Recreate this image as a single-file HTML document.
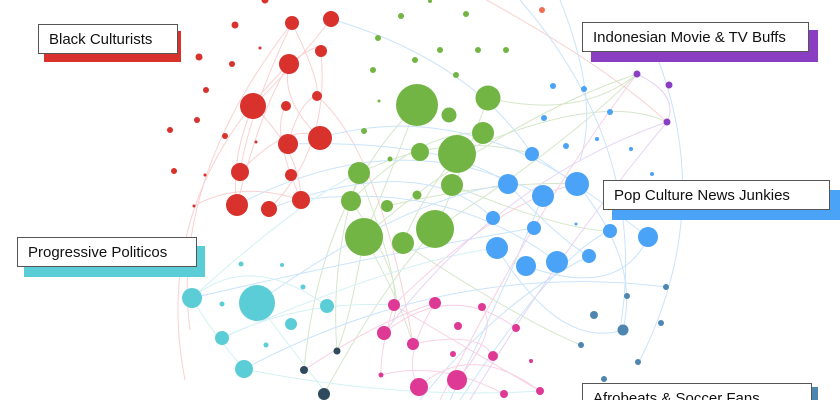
<!DOCTYPE html>
<html><head><meta charset="utf-8"><style>
body{margin:0;background:#fff;}
.w{position:relative;width:840px;height:400px;overflow:hidden;font-family:"Liberation Sans",sans-serif;}
.lb{position:absolute;background:#fff;border:1px solid #555;font-size:15px;color:#111;padding:0 10px;line-height:29px;white-space:nowrap;box-sizing:border-box;height:30px;}
.sh{position:absolute;}
</style></head><body><div class="w">
<svg width="840" height="400" style="position:absolute;left:0;top:0">
<g fill="none" stroke-width="1" opacity="0.45">
<g stroke="#f19a9a">
<path d="M190 330 Q170 180 292 23"/><path d="M185 380 Q150 200 289 64"/>
<path d="M253 106 Q300 60 331 19"/><path d="M237 205 Q260 110 289 64"/>
<path d="M240 172 Q250 110 292 23"/><path d="M269 209 Q330 150 321 51"/>
<path d="M301 200 Q270 130 286 106"/><path d="M288 144 Q300 100 317 96"/>
<path d="M320 138 Q280 100 289 64"/><path d="M194 206 Q240 180 301 200"/>
<path d="M240 172 Q290 120 320 138"/><path d="M450 -20 Q600 60 667 122"/>
<path d="M253 106 Q230 160 237 205"/><path d="M289 64 Q320 40 321 51"/>
<path d="M292 23 Q320 80 317 96"/><path d="M253 106 Q300 150 301 200"/>
<path d="M317 96 Q380 150 413 344"/>
</g>
<g stroke="#a3c98a">
<path d="M364 237 Q500 120 637 74"/><path d="M435 229 Q560 150 637 74"/>
<path d="M351 201 Q420 300 384 333"/><path d="M403 243 Q520 320 581 345"/>
<path d="M359 173 Q330 260 337 351"/><path d="M457 154 Q600 90 667 122"/>
<path d="M417 105 Q320 200 304 370"/><path d="M488 98 Q580 120 637 74"/>
<path d="M364 237 Q400 300 413 344"/><path d="M435 229 Q380 290 324 394"/>
<path d="M452 185 Q560 230 610 231"/><path d="M387 206 Q500 180 577 184"/>
<path d="M359 173 Q450 130 532 154"/><path d="M417 105 Q380 200 364 237"/>
<path d="M457 154 Q420 200 403 243"/><path d="M488 98 Q450 200 435 229"/>
<path d="M351 201 Q420 130 483 133"/><path d="M359 173 Q400 280 394 305"/>
<path d="M364 237 Q350 320 337 351"/>
</g>
<g stroke="#8cc3f5">
<path d="M331 19 Q470 60 532 154"/><path d="M320 138 Q450 100 577 184"/>
<path d="M237 205 Q400 120 543 196"/><path d="M257 303 Q400 200 508 184"/>
<path d="M497 248 Q560 350 623 330"/><path d="M526 266 Q620 300 648 237"/>
<path d="M420 400 Q500 300 589 256"/><path d="M460 400 Q560 250 610 231"/>
<path d="M520 0 Q650 150 620 330"/><path d="M650 40 Q720 200 640 360"/>
<path d="M301 200 Q450 180 557 262"/><path d="M269 209 Q420 150 493 218"/>
<path d="M244 369 Q450 260 666 287"/><path d="M192 298 Q400 250 534 228"/>
<path d="M560 0 Q600 100 580 160"/><path d="M508 184 Q560 240 589 256"/>
<path d="M532 154 Q600 200 648 237"/><path d="M288 144 Q450 140 508 184"/>
<path d="M543 196 Q500 300 450 400"/><path d="M577 184 Q640 260 623 330"/>
</g>
<g stroke="#f09ac4">
<path d="M394 305 Q470 350 540 391"/><path d="M435 303 Q400 360 419 387"/>
<path d="M384 333 Q450 280 516 328"/><path d="M413 344 Q480 330 493 356"/>
<path d="M381 375 Q440 360 504 394"/><path d="M457 380 Q500 330 482 307"/>
<path d="M440 400 Q540 200 637 74"/>
<path d="M394 305 Q500 200 577 184"/><path d="M304 370 Q380 320 435 303"/>
<path d="M419 387 Q470 340 540 391"/><path d="M394 305 Q380 350 381 375"/>
</g>
<g stroke="#9fe0e6">
<path d="M192 298 Q250 250 327 306"/><path d="M222 338 Q300 300 394 305"/>
<path d="M244 369 Q400 400 540 391"/><path d="M257 303 Q300 360 327 394"/>
<path d="M192 298 Q300 200 359 173"/><path d="M222 338 Q400 260 497 248"/>
<path d="M192 298 Q210 330 244 369"/>
</g>
<g stroke="#c7a0e6">
<path d="M384 333 Q500 180 667 122"/><path d="M637 74 Q680 95 667 122"/>
<path d="M470 400 Q560 250 667 122"/>
</g>
</g>
<g fill="#d9312c">
<circle cx="292" cy="23" r="7"/><circle cx="331" cy="19" r="8"/><circle cx="321" cy="51" r="6"/><circle cx="289" cy="64" r="10"/><circle cx="253" cy="106" r="13"/><circle cx="286" cy="106" r="5"/><circle cx="317" cy="96" r="5"/><circle cx="288" cy="144" r="10"/><circle cx="320" cy="138" r="12"/><circle cx="240" cy="172" r="9"/><circle cx="291" cy="175" r="6"/><circle cx="237" cy="205" r="11"/><circle cx="269" cy="209" r="8"/><circle cx="301" cy="200" r="9"/>
<circle cx="235" cy="25" r="3.5"/><circle cx="199" cy="57" r="3.5"/><circle cx="232" cy="64" r="3"/><circle cx="206" cy="90" r="3"/><circle cx="197" cy="120" r="3"/><circle cx="170" cy="130" r="3"/><circle cx="225" cy="136" r="3"/><circle cx="174" cy="171" r="3"/><circle cx="205" cy="175" r="1.5"/><circle cx="194" cy="206" r="1.5"/><circle cx="260" cy="48" r="1.5"/><circle cx="256" cy="142" r="1.5"/><circle cx="265" cy="0" r="3.5"/>
</g>
<g fill="#72b544">
<circle cx="417" cy="105" r="21"/><circle cx="488" cy="98" r="12.5"/><circle cx="449" cy="115" r="7.5"/><circle cx="483" cy="133" r="11"/><circle cx="457" cy="154" r="19"/><circle cx="420" cy="152" r="9"/><circle cx="390" cy="159" r="2.5"/><circle cx="359" cy="173" r="11"/><circle cx="452" cy="185" r="11"/><circle cx="351" cy="201" r="10"/><circle cx="387" cy="206" r="6"/><circle cx="417" cy="195" r="4.5"/><circle cx="364" cy="237" r="19"/><circle cx="435" cy="229" r="19"/><circle cx="403" cy="243" r="11"/>
<circle cx="401" cy="16" r="3"/><circle cx="466" cy="14" r="3"/><circle cx="378" cy="38" r="3"/><circle cx="440" cy="50" r="3"/><circle cx="478" cy="50" r="3"/><circle cx="373" cy="70" r="3"/><circle cx="415" cy="60" r="3"/><circle cx="456" cy="75" r="3"/><circle cx="379" cy="101" r="1.5"/><circle cx="364" cy="131" r="3"/><circle cx="430" cy="1" r="2"/><circle cx="506" cy="50" r="3"/>
</g>
<circle cx="542" cy="10" r="3" fill="#ec6f52"/>
<g fill="#8a3fc2"><circle cx="637" cy="74" r="3.5"/><circle cx="669" cy="85" r="3.5"/><circle cx="667" cy="122" r="3.5"/></g>
<g fill="#4aa3f7">
<circle cx="553" cy="86" r="3"/><circle cx="584" cy="89" r="3"/><circle cx="544" cy="118" r="3"/><circle cx="610" cy="112" r="3"/><circle cx="566" cy="146" r="3"/><circle cx="597" cy="139" r="2"/><circle cx="631" cy="149" r="2"/><circle cx="652" cy="174" r="2"/><circle cx="576" cy="224" r="1.5"/>
<circle cx="532" cy="154" r="7"/><circle cx="508" cy="184" r="10"/><circle cx="543" cy="196" r="11"/><circle cx="577" cy="184" r="12"/><circle cx="493" cy="218" r="7"/><circle cx="534" cy="228" r="7"/><circle cx="610" cy="231" r="7"/><circle cx="497" cy="248" r="11"/><circle cx="526" cy="266" r="10"/><circle cx="557" cy="262" r="11"/><circle cx="589" cy="256" r="7"/><circle cx="648" cy="237" r="10"/>
</g>
<g fill="#5bcdd6">
<circle cx="192" cy="298" r="10"/><circle cx="257" cy="303" r="18"/><circle cx="327" cy="306" r="7"/><circle cx="291" cy="324" r="6"/><circle cx="222" cy="338" r="7"/><circle cx="244" cy="369" r="9"/><circle cx="241" cy="264" r="2.5"/><circle cx="282" cy="265" r="2"/><circle cx="303" cy="287" r="2.5"/><circle cx="222" cy="304" r="2.5"/><circle cx="266" cy="345" r="2.5"/>
</g>
<g fill="#2e4a5c"><circle cx="337" cy="351" r="3.5"/><circle cx="304" cy="370" r="4"/><circle cx="324" cy="394" r="6"/></g>
<g fill="#de3a95">
<circle cx="394" cy="305" r="6"/><circle cx="435" cy="303" r="6"/><circle cx="482" cy="307" r="4"/><circle cx="384" cy="333" r="7"/><circle cx="413" cy="344" r="6"/><circle cx="458" cy="326" r="4"/><circle cx="516" cy="328" r="4"/><circle cx="453" cy="354" r="3"/><circle cx="493" cy="356" r="5"/><circle cx="531" cy="361" r="2"/><circle cx="381" cy="375" r="2.5"/><circle cx="419" cy="387" r="9"/><circle cx="457" cy="380" r="10"/><circle cx="504" cy="394" r="4"/><circle cx="540" cy="391" r="4"/>
</g>
<g fill="#4d86b0">
<circle cx="666" cy="287" r="3"/><circle cx="627" cy="296" r="3"/><circle cx="594" cy="315" r="4"/><circle cx="623" cy="330" r="5.5"/><circle cx="661" cy="323" r="3"/><circle cx="581" cy="345" r="3"/><circle cx="638" cy="362" r="3"/><circle cx="604" cy="379" r="3"/>
</g>
</svg>
<div class="sh" style="left:44px;top:31px;width:137px;height:31px;background:#d9312c"></div>
<div class="lb" style="left:38px;top:24px;width:140px;">Black Culturists</div>
<div class="sh" style="left:591px;top:30px;width:227px;height:32px;background:#8a3fc2"></div>
<div class="lb" style="left:582px;top:22px;width:227px;">Indonesian Movie &amp; TV Buffs</div>
<div class="sh" style="left:612px;top:190px;width:228px;height:30px;background:#4aa3f7"></div>
<div class="lb" style="left:603px;top:180px;width:227px;">Pop Culture News Junkies</div>
<div class="sh" style="left:24px;top:246px;width:181px;height:31px;background:#5bcdd6"></div>
<div class="lb" style="left:17px;top:237px;width:180px;">Progressive Politicos</div>
<div class="sh" style="left:592px;top:387px;width:226px;height:20px;background:#4d86b0"></div>
<div class="lb" style="left:582px;top:383px;width:230px;">Afrobeats &amp; Soccer Fans</div>
</div></body></html>
